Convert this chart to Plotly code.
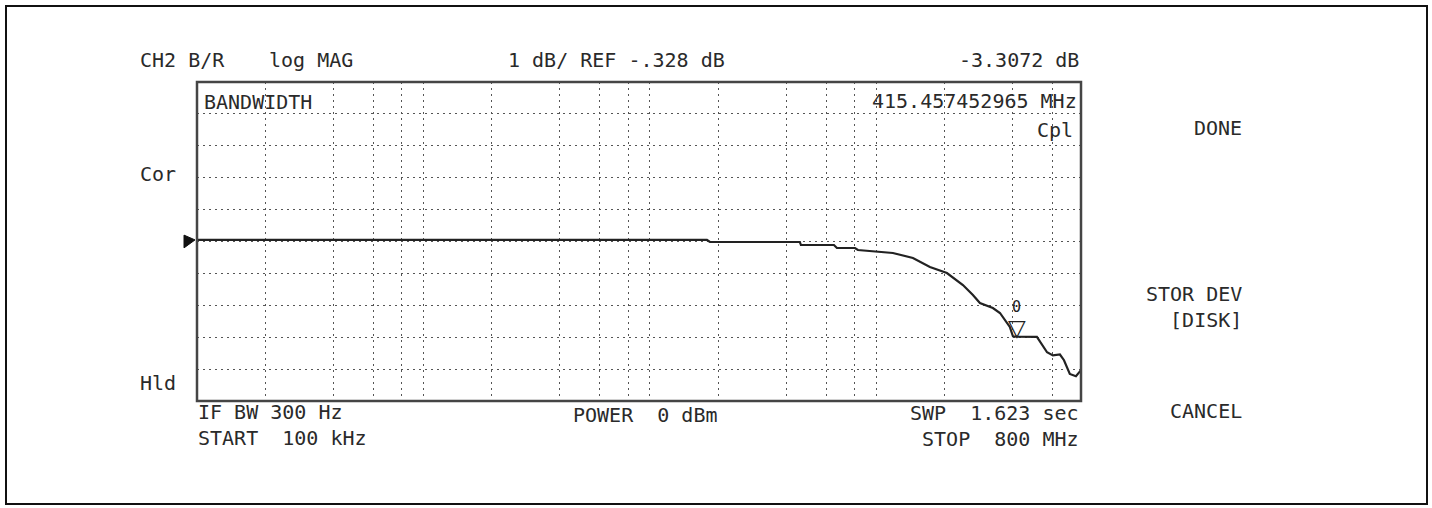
import numpy as np
import plotly.graph_objects as go

# ---- data ----
freq_mhz = [0.1, 17.85, 18.4, 45.9, 46.4, 64.9, 66.9, 80.4, 82.8, 103.5, 118.2, 144.9,
            172.2, 204.7, 240.9, 266.6, 286.3, 326.6, 351.0, 388.0, 400.5, 415.457,
            511.0, 566.5, 601.0, 645.8, 673.0, 714.0, 760.0, 800.0]
mag_db = [-0.28, -0.28, -0.344, -0.344, -0.438, -0.438, -0.532, -0.532, -0.594, -0.657,
          -0.689, -0.845, -1.127, -1.316, -1.692, -2.006, -2.256, -2.413, -2.569, -3.008,
          -3.30, -3.3072, -3.32, -3.80, -3.90, -3.87, -4.05, -4.48, -4.55, -4.36]

grid_freq_mhz = [0.2, 0.4, 0.6, 0.8, 1, 2, 4, 6, 8, 10, 20, 40, 60, 80, 100, 200, 400, 600]
start_mhz, stop_mhz = 0.1, 800.0
ref_db = -0.328
scale_db = 1.0
n_div = 10
marker_freq_mhz = 415.457452965
marker_db = -3.3072

W, H = 1432, 508
L, R, T, B = 197, 1081, 82, 401  # plot box in pixels

def px(x):
    return (x - L) / (R - L)

def py(y):
    return (B - y) / (B - T)

fig = go.Figure()
fig.add_trace(go.Scatter(
    x=[f * 1e6 for f in freq_mhz], y=mag_db, mode="lines",
    line=dict(color="#222222", width=2.2), hoverinfo="skip", showlegend=False))

y_lo = ref_db - scale_db * n_div / 2
y_hi = ref_db + scale_db * n_div / 2

fig.update_layout(
    width=W, height=H,
    margin=dict(l=L, r=W - R, t=T, b=H - B),
    paper_bgcolor="white", plot_bgcolor="white",
    showlegend=False,
    xaxis=dict(type="log", range=[np.log10(start_mhz * 1e6), np.log10(stop_mhz * 1e6)],
               tickvals=[f * 1e6 for f in grid_freq_mhz], showticklabels=False,
               ticks="", showgrid=True, gridcolor="#555555", gridwidth=1,
               griddash="2px,4px", zeroline=False, showline=False),
    yaxis=dict(range=[y_lo, y_hi],
               tickvals=[y_lo + k * scale_db for k in range(1, n_div)],
               showticklabels=False, ticks="", showgrid=True, gridcolor="#555555",
               gridwidth=1, griddash="2px,4px", zeroline=False, showline=False),
)

shapes = [
    # plot frame
    dict(type="rect", xref="paper", yref="paper", x0=0, x1=1, y0=0, y1=1,
         line=dict(color="#454545", width=2.5)),
    # outer frame
    dict(type="rect", xref="paper", yref="paper", x0=px(6), x1=px(1427),
         y0=py(504), y1=py(6), line=dict(color="#111111", width=2)),
    # reference level triangle
    dict(type="path", xref="paper", yref="y",
         path=f"M {px(184)},{ref_db + 0.2} L {px(184)},{ref_db - 0.2} L {px(195)},{ref_db + 0.05} Z",
         fillcolor="#111111", line=dict(color="#111111", width=1)),
]
fig.update_layout(shapes=shapes)

font = dict(family="DejaVu Sans Mono", size=20, color="#2a2a2a")
texts = [
    ("CH2 B/R", 139, 60, "left"),
    ("log MAG", 268, 60, "left"),
    ("1 dB/ REF -.328 dB", 616, 60, "center"),
    ("-3.3072 dB", 1080, 60, "right"),
    ("BANDWIDTH", 203, 102, "left"),
    ("415.457452965 MHz", 1078, 101, "right"),
    ("Cpl", 1074, 130, "right"),
    ("Cor", 139, 174, "left"),
    ("Hld", 139, 383, "left"),
    ("IF BW 300 Hz<br>START  100 kHz", 197, 425, "left"),
    ("POWER  0 dBm", 645, 415, "center"),
    ("SWP  1.623 sec<br>STOP  800 MHz", 1080, 426, "right"),
    ("DONE", 1243, 128, "right"),
    ("STOR DEV<br>[DISK]", 1243, 307, "right"),
    ("CANCEL", 1243, 411, "right"),
]
ann = []
for t, x, y, al in texts:
    ann.append(dict(text=t, xref="paper", yref="paper", x=px(x), y=py(y),
                    xanchor=al, yanchor="middle", align=al,
                    showarrow=False, font=font, borderpad=0))

# marker symbol and number
mx = np.log10(marker_freq_mhz * 1e6)
ann.append(dict(text="<b>▽</b>", x=mx, y=marker_db, xref="x", yref="y", xanchor="center",
                yanchor="bottom", yshift=-6, showarrow=False,
                font=dict(family="DejaVu Sans", size=23, color="#222222")))
ann.append(dict(text="0", x=mx, y=marker_db, xref="x", yref="y", xanchor="center",
                yanchor="bottom", yshift=19, showarrow=False,
                font=dict(family="DejaVu Sans Mono", size=15, color="#222222")))
fig.update_layout(annotations=ann)

fig.write_html(
    "out.html",
    config={"displayModeBar": False},
    post_script="document.body.style.margin='0';"
                "document.documentElement.style.overflow='hidden';",
)
